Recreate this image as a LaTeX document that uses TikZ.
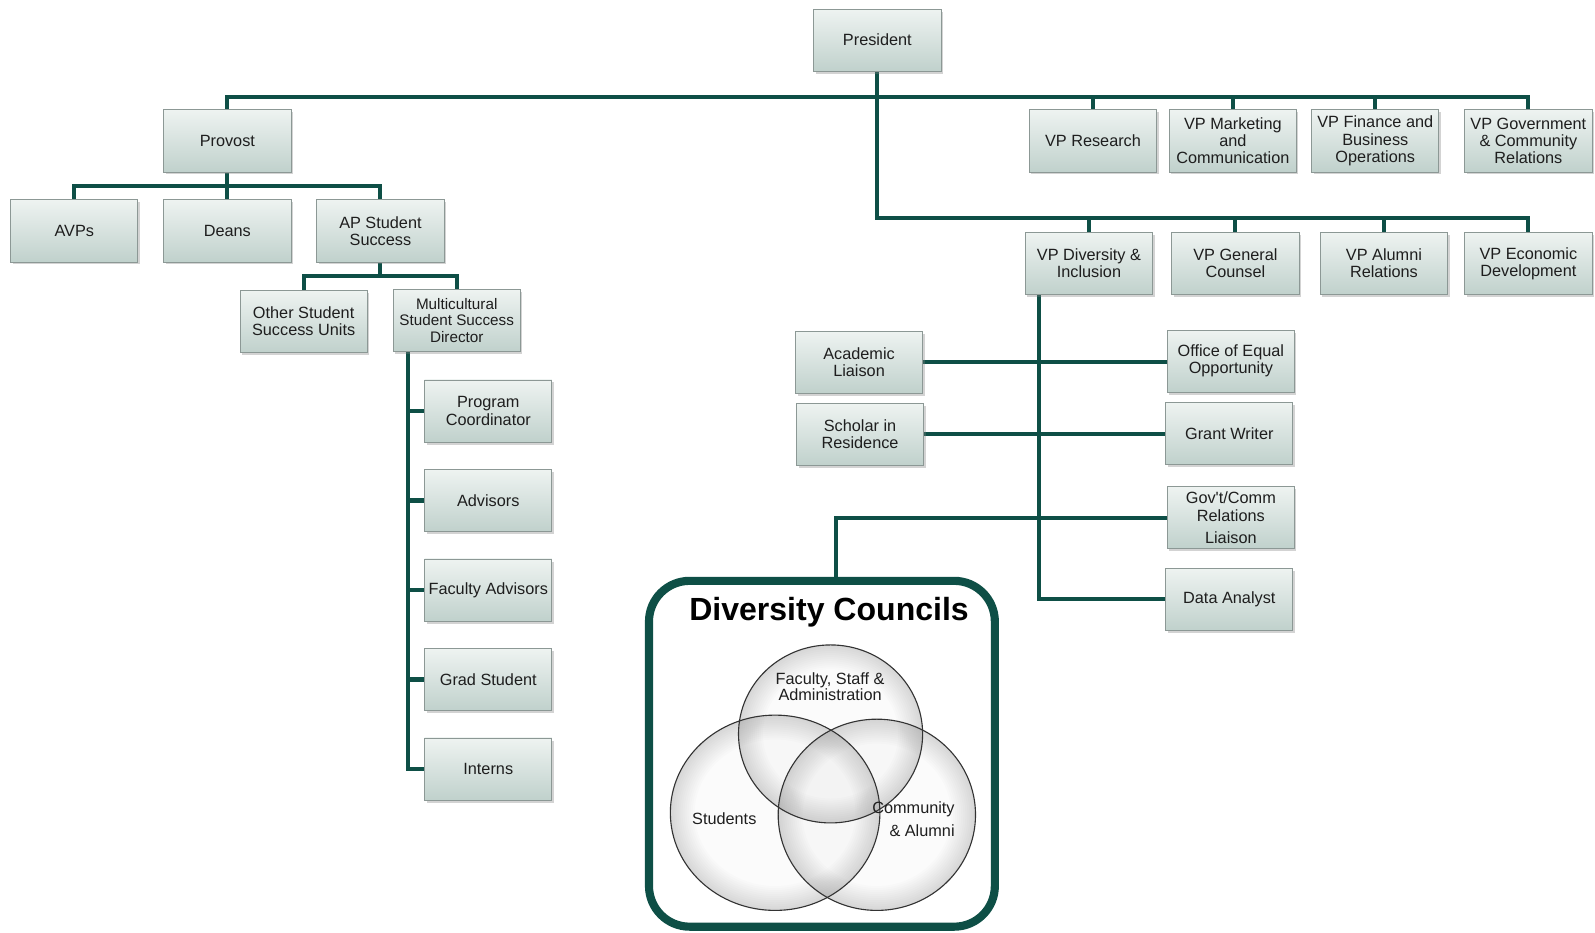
\documentclass[tikz,border=0pt]{standalone}
\usepackage{fontspec}
\setmainfont{Liberation Sans}[Ligatures=TeXOff]
\usetikzlibrary{shadows,backgrounds}

\definecolor{linegreen}{RGB}{14,79,70}
\definecolor{boxtop}{RGB}{238,243,241}
\definecolor{boxbottom}{RGB}{192,209,204}
\definecolor{boxedge}{RGB}{140,152,149}
\definecolor{txt}{RGB}{30,30,30}

\tikzset{
  orgbox/.style={draw=boxedge, line width=0.8pt,
    top color=boxtop, bottom color=boxbottom,
    minimum width=125pt, minimum height=61pt, inner sep=1pt,
    align=center, text=txt,
    font=\fontsize{16}{17}\selectfont,
    drop shadow={opacity=0.35, shadow xshift=2pt, shadow yshift=-2.5pt}},
  link/.style={draw=linegreen, line width=4pt},
  councilbox/.style={draw=linegreen, line width=8pt, rounded corners=40pt,
    minimum width=340pt, minimum height=340pt, inner sep=0pt},
  vennedge/.style={draw=black!80, line width=1.1pt},
  vennlabel/.style={text=txt, align=center, font=\fontsize{16}{16.5}\selectfont}
}

% a glassy bubble: faint body, soft rim that fades inwards
\newcommand\glassbubble[3]{%
  \fill[black, fill opacity=0.015] (#1) ellipse [x radius=#2, y radius=#3];
  \begin{scope}
    \clip (#1) ellipse [x radius=#2, y radius=#3];
    \foreach \w in {4,8,...,48}
      \draw[black, opacity=0.013, line width=\w pt] (#1) ellipse [x radius=#2, y radius=#3];
  \end{scope}}

\begin{document}
\begin{tikzpicture}[x=1pt,y=-1pt]
\useasboundingbox (0,0) rectangle (1568,917);

% ---- top level
\node[orgbox] (president) at (862.5,39.5) {President};

\node[orgbox] (provost) at (223.5,138.5) {Provost};
\node[orgbox] (vpres)   at (1074.5,138.5) {VP Research};
\node[orgbox] (vpmkt)   at (1212,138.5) {VP Marketing\\and\\Communication};
\node[orgbox] (vpfin)   at (1352,138.5) {VP Finance and\\Business\\Operations};
\node[orgbox] (vpgov)   at (1502.5,138.5) {VP Government\\\& Community\\Relations};

\node[orgbox] (vpdi) at (1070.5,259) {VP Diversity \&\\Inclusion};
\node[orgbox] (vpgc) at (1214.5,259) {VP General\\Counsel};
\node[orgbox] (vpar) at (1360.5,259) {VP Alumni\\Relations};
\node[orgbox] (vped) at (1502.5,259) {VP Economic\\Development};

% ---- provost branch
\node[orgbox] (avps)  at (73,227) {AVPs};
\node[orgbox] (deans) at (223.5,227) {Deans};
\node[orgbox] (apss)  at (374,227) {AP Student\\Success};

\node[orgbox] (ossu) at (298.5,316) {Other Student\\Success Units};
\node[orgbox, font=\fontsize{15}{16.5}\selectfont] (mssd) at (449,315)
  {Multicultural\\Student Success\\Director};

\node[orgbox] (pc)      at (480,404) {Program\\Coordinator};
\node[orgbox] (adv)     at (480,492) {Advisors};
\node[orgbox] (fadv)    at (480,580) {Faculty Advisors};
\node[orgbox] (grad)    at (480,668) {Grad Student};
\node[orgbox] (interns) at (480,756) {Interns};

% ---- diversity & inclusion branch
\node[orgbox] (acad)  at (844.5,356) {Academic\\Liaison};
\node[orgbox] (schol) at (845.5,427) {Scholar in\\Residence};
\node[orgbox] (oeo)   at (1210,355) {Office of Equal\\Opportunity};
\node[orgbox] (grant) at (1208.5,426) {Grant Writer};
\node[orgbox] (gov)   at (1210,509) {Gov't/Comm\\Relations\\[5pt]Liaison};
\node[orgbox] (data)  at (1208.5,589) {Data Analyst};

% ---- diversity councils
\node[councilbox] (dc) at (808,741) {};
\node[font=\bfseries\fontsize{31.5}{32}\selectfont] (dctitle) at (815,602) {Diversity Councils};

\glassbubble{762,799}{103}{96}
\glassbubble{862,801}{97}{94}
\glassbubble{816.5,721.5}{90.5}{87.5}
\draw[vennedge] (762,799) ellipse [x radius=103, y radius=96];
\draw[vennedge] (862,801) ellipse [x radius=97, y radius=94];
\draw[vennedge] (816.5,721.5) ellipse [x radius=90.5, y radius=87.5];

\node[vennlabel] (fsa) at (816,675) {Faculty, Staff \&\\Administration};
\node[vennlabel] (stu) at (712,805) {Students};
\node[vennlabel, align=right, anchor=east] (comm) at (942,805) {Community\\[6pt]\& Alumni};

% ---- helper coordinates for bus lines
\coordinate (busA) at (0,95);
\coordinate (busB) at (0,214);
\coordinate (busC) at (0,183);
\coordinate (busD) at (0,271);
\coordinate (spineL) at (401,0);
\coordinate (spineR) at (1021,0);
\coordinate (dctop) at (822,571);

\begin{scope}[on background layer]
  % president to vice presidents
  \draw[link] (provost.north) -- (provost.north |- busA) -| (vpgov.north);
  \draw[link] (president.south) -- (president.south |- busB) -| (vped.north);
  \draw[link] (vpres.north) -- (vpres.north |- busA);
  \draw[link] (vpmkt.north) -- (vpmkt.north |- busA);
  \draw[link] (vpfin.north) -- (vpfin.north |- busA);
  \draw[link] (vpdi.north) -- (vpdi.north |- busB);
  \draw[link] (vpgc.north) -- (vpgc.north |- busB);
  \draw[link] (vpar.north) -- (vpar.north |- busB);

  % provost branch
  \draw[link] (provost.south) -- (deans.north);
  \draw[link] (avps.north) -- (avps.north |- busC) -| (apss.north);
  \draw[link] (apss.south) -- (apss.south |- busD);
  \draw[link] (ossu.north) -- (ossu.north |- busD) -| (mssd.north);

  % multicultural director staff
  \draw[link] (spineL |- mssd.south) |- (interns.west);
  \draw[link] (spineL |- pc.west) -- (pc.west);
  \draw[link] (spineL |- adv.west) -- (adv.west);
  \draw[link] (spineL |- fadv.west) -- (fadv.west);
  \draw[link] (spineL |- grad.west) -- (grad.west);

  % diversity & inclusion staff
  \draw[link] (spineR |- vpdi.south) |- (data.west);
  \draw[link] (acad.east) -- (acad.east -| oeo.west);
  \draw[link] (schol.east) -- (schol.east -| grant.west);
  \draw[link] (dctop) |- (gov.west);
\end{scope}
\end{tikzpicture}
\end{document}
